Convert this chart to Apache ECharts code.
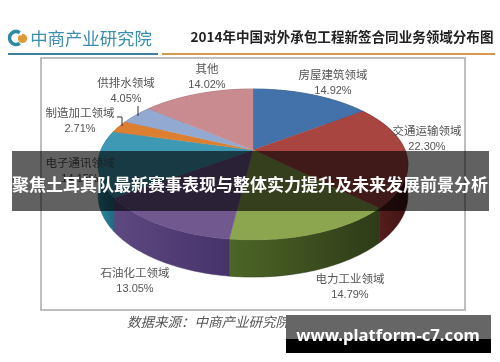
<!DOCTYPE html>
<html><head><meta charset="utf-8">
<style>html,body{margin:0;padding:0;background:#fff}#c{width:500px;height:362px;filter:blur(0.45px)}</style>
<script src="https://cdn.jsdelivr.net/npm/echarts@6/dist/echarts.min.js"></script>
</head><body><div id="c"></div>
<script>
var categories=['房屋建筑领域','交通运输领域','电力工业领域','石油化工领域','电子通讯领域','制造加工领域','供排水领域','其他'];
var values=[14.92,22.30,14.79,13.05,14.15,2.71,4.05,14.02];
var topColors=['#4272a9','#a94541','#8ba64f','#71588f','#3e9ab4','#dc7f31','#92a9d1','#c98b8f'];
var wallLight=['#36598a','#62221f','#4d6526','#5e4880','#2f8aa2','#b8651f','#7088b0','#a06a6e'];
var wallDark=['#2a4569','#3f1414','#2e3b18','#46336a','#1f6a80','#8a4a15','#566a8a','#805053'];
var labelPos=[[333,75],[427,131],[350,279],[135,273],[80,163],[80,113],[126,83],[207,69]];
var title='2014年中国对外承包工程新签合同业务领域分布图';
var brand='中商产业研究院';
var source='数据来源：中商产业研究院';
var headline='聚焦土耳其队最新赛事表现与整体实力提升及未来发展前景分析';
var site='www.platform-c7.com';

var P={cx:253,cy:150,R:152,B:72.7,k:0.192,D:30};
function pt(deg,drop){
  var t=deg*Math.PI/180,w=1+P.k*Math.cos(t);
  return [P.cx+P.R*Math.sin(t)/w,P.cy-P.B*Math.cos(t)/w+(drop?P.D/w:0)];
}
var total=values.reduce(function(a,b){return a+b},0);
var starts=[],acc=0;
values.forEach(function(v){starts.push(acc/total*360);acc+=v;});

function renderItem(params,api){
  var i=params.dataIndex,a0=starts[i],a1=a0+api.value(1)/total*360;
  var arc=[],bottom=[];
  for(var d=a0;d<a1;d+=1){arc.push(pt(d));bottom.push(pt(d,true));}
  arc.push(pt(a1));bottom.push(pt(a1,true));
  return {type:'group',children:[
    {type:'polygon',z2:1,shape:{points:arc.concat(bottom.slice().reverse())},
     style:{fill:new echarts.graphic.LinearGradient(0,0,1,0,[{offset:0,color:wallLight[i]},{offset:1,color:wallDark[i]}]),stroke:wallDark[i],lineWidth:0.5}},
    {type:'polygon',z2:2,shape:{points:[[P.cx,P.cy]].concat(arc)},
     style:{fill:topColors[i],stroke:topColors[i],lineWidth:0.4}}
  ]};
}

var lab={font:'11.5px "Noto Sans CJK SC"',fill:'#555',textAlign:'center',textVerticalAlign:'middle'};
function txt(x,y,t,s,z){return {type:'text',x:x,y:y,z:z||5,style:Object.assign({},lab,{text:t},s||{})};}
var g=[];
g.push({type:'rect',z:0,shape:{x:41,y:58,width:424,height:252},style:{fill:'#fff',stroke:'#a9a9a9',lineWidth:1.5}});
g.push({type:'arc',z:5,shape:{cx:16,cy:38,r:6.5,startAngle:0.95,endAngle:5.33,clockwise:true},style:{stroke:'#2f8aa6',lineWidth:3.5,fill:null}});
g.push({type:'circle',z:5,shape:{cx:22.5,cy:38.5,r:4.6},style:{fill:'#e09a35'}});
g.push({type:'circle',z:6,shape:{cx:21,cy:34.5,r:1},style:{fill:'#fff'}});
g.push(txt(91,38,brand,{font:'17.4px "Noto Sans CJK SC"',fill:'#3b8fae'}));
g.push(txt(342,37,title,{font:'bold 13.55px "Noto Sans CJK SC"',fill:'#222'}));
g.push({type:'rect',z:5,shape:{x:8,y:53,width:150,height:2},style:{fill:'#3d8098'}});
g.push({type:'rect',z:5,shape:{x:162,y:53,width:333,height:2},style:{fill:'#d39a4f'}});
categories.forEach(function(c,i){
  g.push(txt(labelPos[i][0],labelPos[i][1],c));
  g.push(txt(labelPos[i][0],labelPos[i][1]+16,values[i].toFixed(2)+'%',{font:'11px "Liberation Sans"'}));
});
g.push({type:'polyline',z:5,shape:{points:[[138,106],[138,116]]},style:{stroke:'#333',lineWidth:1,fill:null}});
g.push({type:'polyline',z:5,shape:{points:[[117,117],[122,117],[122,126]]},style:{stroke:'#333',lineWidth:1,fill:null}});
g.push(txt(208,322,source,{font:'italic 13.5px "Noto Sans CJK SC"',fill:'#555'}));
g.push({type:'rect',z:20,shape:{x:12,y:151,width:477,height:60},style:{fill:'rgba(0,0,0,0.62)'}});
g.push(txt(250,185,headline,{font:'bold 17px "Noto Sans CJK SC"',fill:'#fff'},21));
g.push({type:'rect',z:20,shape:{x:286,y:315,width:205,height:24},style:{fill:'#666'}});
g.push({type:'rect',z:20,shape:{x:286,y:339,width:205,height:14},style:{fill:'#000'}});
g.push(txt(388,336,site,{font:'bold 16.7px "Noto Sans"',fill:'#fff'},21));

var chart=echarts.init(document.getElementById('c'),null,{renderer:'canvas',width:500,height:362});
chart.setOption({
  animation:false,backgroundColor:'#fff',
  graphic:{elements:g},
  series:[{type:'custom',coordinateSystem:'none',z:3,renderItem:renderItem,
    data:values.map(function(v,i){return [i,v];}),silent:true}]
});
</script></body></html>
